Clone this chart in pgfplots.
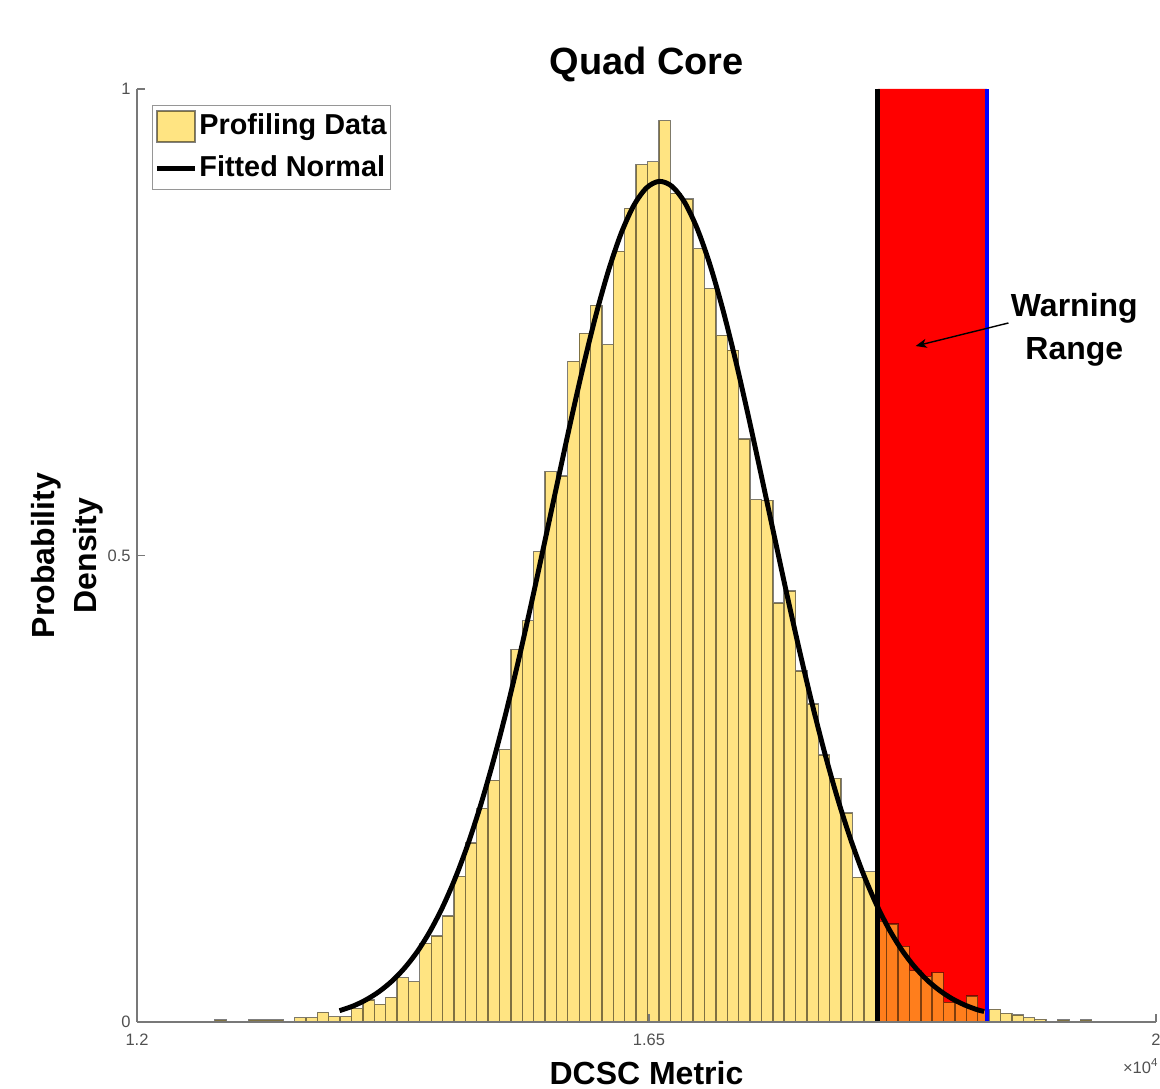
\documentclass[border=0pt]{standalone}
\usepackage{fontspec}
\setmainfont{Liberation Sans}
\usepackage{pgfplots}
\pgfplotsset{compat=1.18}
\usetikzlibrary{arrows.meta}

\definecolor{histfill}{RGB}{255,210,47}
\definecolor{tickgray}{RGB}{80,80,80}
\definecolor{axisgray}{RGB}{120,120,120}
\definecolor{legframe}{RGB}{150,150,150}

\pgfplotsset{
  barlegend/.style={legend image code/.code={\draw[##1] (0cm,-0.155cm) rectangle (0.38cm,0.155cm);}},
  linelegend/.style={legend image code/.code={\draw[##1] (0cm,0cm) -- (0.38cm,0cm);}},
}

\begin{document}
\begin{tikzpicture}
\useasboundingbox (0,0) rectangle (11.6cm,10.89cm);
\begin{axis}[
  at={(1.37cm,0.67cm)}, anchor=south west,
  scale only axis, width=10.19cm, height=9.33cm,
  xmin=1.2, xmax=2, ymin=0, ymax=1,
  axis x line*=bottom, axis y line*=left,
  axis line style={axisgray, line width=0.4pt, -},
  tick align=inside, major tick length=0.08cm,
  tick style={axisgray, line width=0.4pt},
  xtick={1.2,1.602,2}, xticklabels={1.2,1.65,2},
  ytick={0,0.5,1}, yticklabels={0,0.5,1},
  ticklabel style={font=\fontsize{4.7}{5}\selectfont, text=tickgray},
  yticklabel style={xshift=0.06cm},
  axis on top,
  clip mode=individual,
  legend cell align=left,
  legend style={at={(rel axis cs:0.0147,0.983)}, anchor=north west,
    draw=legframe, line width=0.3pt,
    font=\bfseries\fontsize{8.2}{9.5}\selectfont,
    inner xsep=0.02cm, inner ysep=0.05cm, row sep=0.1cm,
    nodes={inner xsep=0.02cm, inner ysep=0.03cm}},
]
% warning range
\addplot[fill=red, draw=none, forget plot] coordinates {(1.7817,0) (1.7817,1) (1.8673,1) (1.8673,0)} \closedcycle;

% profiling data histogram (left bin edges)
\addplot[ybar interval, fill=histfill, fill opacity=0.6, draw=black, draw opacity=0.5, line width=0.4pt,
  barlegend] coordinates {
(1.2611,0.002) (1.2700,0) (1.2790,0) (1.2879,0.002) (1.2969,0.002) (1.3058,0.002) (1.3147,0)
(1.3237,0.0047) (1.3326,0.0047) (1.3416,0.0104) (1.3505,0.0057) (1.3594,0.0057) (1.3684,0.0147)
(1.3773,0.0236) (1.3863,0.019) (1.3952,0.0265) (1.4041,0.0475) (1.4131,0.0432) (1.4220,0.0843)
(1.4310,0.0922) (1.4399,0.1136) (1.4488,0.156) (1.4578,0.192) (1.4667,0.229) (1.4757,0.259)
(1.4846,0.292) (1.4935,0.399) (1.5025,0.430) (1.5114,0.504) (1.5204,0.590) (1.5293,0.585)
(1.5382,0.708) (1.5472,0.738) (1.5561,0.768) (1.5651,0.726) (1.5740,0.826) (1.5829,0.872)
(1.5919,0.919) (1.6008,0.922) (1.6098,0.966) (1.6187,0.888) (1.6276,0.882) (1.6366,0.829)
(1.6455,0.786) (1.6545,0.736) (1.6634,0.720) (1.6723,0.625) (1.6813,0.560) (1.6902,0.559)
(1.6992,0.449) (1.7081,0.462) (1.7170,0.376) (1.7260,0.341) (1.7349,0.286) (1.7439,0.261)
(1.7528,0.224) (1.7617,0.155) (1.7707,0.161) (1.7796,0.108) (1.7886,0.105) (1.7975,0.081)
(1.8064,0.055) (1.8154,0.049) (1.8243,0.053) (1.8333,0.021) (1.8422,0.020) (1.8511,0.028)
(1.8601,0.013) (1.8690,0.0136) (1.8780,0.0093) (1.8869,0.0075) (1.8958,0.0046) (1.9048,0.0029)
(1.9137,0.0008) (1.9227,0.0021) (1.9316,0.0008) (1.9405,0.0021) (1.9495,0)
};
\addlegendentry{Profiling Data}

% range limits
\addplot[black, line width=1.4pt, forget plot] coordinates {(1.7817,0) (1.7817,1)};
\addplot[blue, line width=1.1pt, forget plot] coordinates {(1.8673,0) (1.8673,1)};

% fitted normal
\addplot[black, line width=1.4pt, smooth, linelegend] coordinates {
(1.359,0.0121) (1.37,0.0173) (1.38,0.0239) (1.39,0.0325) (1.40,0.0436) (1.41,0.0577)
(1.42,0.0753) (1.43,0.0971) (1.44,0.1234) (1.45,0.1547) (1.46,0.1913) (1.47,0.2334)
(1.48,0.2809) (1.49,0.3334) (1.50,0.3904) (1.51,0.4511) (1.52,0.5140) (1.53,0.5777)
(1.54,0.6406) (1.55,0.7007) (1.56,0.7561) (1.57,0.8047) (1.58,0.8449) (1.59,0.8751)
(1.60,0.8940) (1.61,0.9010) (1.62,0.8957) (1.63,0.8784) (1.64,0.8497) (1.65,0.8109)
(1.66,0.7633) (1.67,0.7088) (1.68,0.6492) (1.69,0.5866) (1.70,0.5229) (1.71,0.4597)
(1.72,0.3988) (1.73,0.3412) (1.74,0.2879) (1.75,0.2397) (1.76,0.1969) (1.77,0.1595)
(1.78,0.1275) (1.79,0.1005) (1.80,0.0781) (1.81,0.0599) (1.82,0.0453) (1.83,0.0339)
(1.84,0.0249) (1.85,0.0181) (1.86,0.0130) (1.865,0.0113)
};
\addlegendentry{Fitted Normal}

% titles and labels
\node[anchor=base, font=\bfseries\fontsize{10.8}{13}\selectfont, yshift=0.14cm] at (rel axis cs:0.5,1) {Quad Core};
\node[anchor=base, font=\bfseries\fontsize{9.1}{11}\selectfont, yshift=-0.63cm] at (rel axis cs:0.5,0) {DCSC Metric};
\node[xshift=-0.82cm, rotate=90, anchor=base, font=\bfseries\fontsize{9.1}{11}\selectfont] at (rel axis cs:0,0.5) {Probability};
\node[xshift=-0.40cm, rotate=90, anchor=base, font=\bfseries\fontsize{9.1}{11}\selectfont] at (rel axis cs:0,0.5) {Density};
\node[anchor=north east, inner sep=0pt, text=tickgray, font=\fontsize{4.7}{5}\selectfont, yshift=-0.36cm, xshift=0.04cm] at (rel axis cs:1,0) {×10\textsuperscript{4}};

% annotation
\node[align=center, font=\bfseries\fontsize{9.1}{12.3}\selectfont] at (axis cs:1.9359,0.7415) {Warning\\Range};
\draw[-{Stealth[length=0.11cm,width=0.09cm,inset=0.03cm]}, line width=0.4pt] (axis cs:1.8842,0.7492) -- (axis cs:1.8113,0.7245);
\end{axis}
\end{tikzpicture}
\end{document}
